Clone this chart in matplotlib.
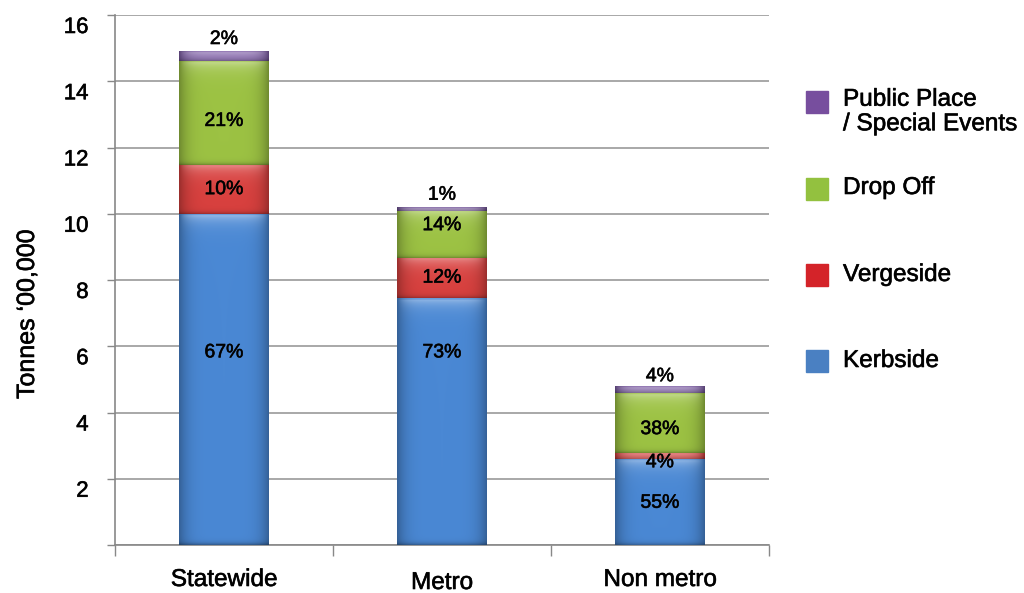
import matplotlib.pyplot as plt
import matplotlib.transforms as mtransforms
import matplotlib.patheffects as pe
from matplotlib.patches import Rectangle
from matplotlib.colors import to_rgb
import numpy as np

plt.rcParams['font.family'] = ['Liberation Sans', 'DejaVu Sans']

regions = ["Statewide", "Metro", "Non metro"]
totals = [14.9, 10.2, 4.72]          # tonnes '00,000
kerbside_pct = [67, 73, 55]
vergeside_pct = [10, 12, 4]
dropoff_pct = [21, 14, 38]
public_pct = [2, 1, 4]

streams = ["Kerbside", "Vergeside", "Drop Off", "Public Place\n/ Special Events"]
bar_colors = ["#4a88d4", "#d8403e", "#9cc243", "#8060a8"]
key_colors = ["#4a80c2", "#d42329", "#93c13f", "#774e9e"]

pcts = [kerbside_pct, vergeside_pct, dropoff_pct, public_pct]
segments = [[t * p[i] / 100 for i, t in enumerate(totals)] for p in pcts]

# slightly heavier strokes for all text
heavy = [pe.withStroke(linewidth=0.45, foreground="#111111")]


def glossy(ax, x0, y0, w, h, color):
    base = np.array(to_rgb(color))
    nx, ny = 80, 300
    u = np.linspace(0, 1, nx)
    side = 1 - 0.28 * np.abs(2 * u - 1) ** 5
    d = np.linspace(0, h, ny)          # distance from the top
    b = h - d                          # distance from the bottom
    glow = 0.45 * np.exp(-d / 0.22)
    glow[d < 0.03] *= 0.4
    dark = 0.30 * np.exp(-b / 0.06)
    mid = 1 - np.abs(2 * u - 1) ** 6
    rgb = base[None, None, :] * side[None, :, None] * (1 - dark[:, None, None])
    rgb = rgb + (1 - rgb) * (glow[:, None] * mid[None, :])[:, :, None]
    ax.imshow(np.clip(rgb, 0, 1), extent=(x0, x0 + w, y0, y0 + h),
              aspect='auto', interpolation='bilinear', zorder=3)


fig = plt.figure(figsize=(10.24, 5.93), dpi=100)
ax = fig.add_axes([115 / 1024, 1 - 545 / 593, (769 - 115) / 1024, 530 / 593])

width = 0.41
x = np.arange(len(regions))
bottom = np.zeros(len(regions))
for seg, col in zip(segments, bar_colors):
    for i in range(len(regions)):
        glossy(ax, x[i] - width / 2, bottom[i], width, seg[i], col)
    bottom += np.array(seg)

# percentage labels
kerb_label_y = [5.8, 5.8, 1.26]
verge_frac = [0.5, 0.5, -0.6]
drop_frac = [0.42, 0.68, 0.39]
lab_kw = dict(ha='center', va='center', fontsize=14, zorder=5, path_effects=heavy)
for i in range(len(regions)):
    k, v, dr, pu = (s[i] for s in segments)
    ax.text(x[i], kerb_label_y[i], f"{kerbside_pct[i]}%", **lab_kw)
    ax.text(x[i], k + v * verge_frac[i], f"{vergeside_pct[i]}%", **lab_kw)
    ax.text(x[i], k + v + dr * drop_frac[i], f"{dropoff_pct[i]}%", **lab_kw)
    ax.text(x[i], totals[i] + 0.36, f"{public_pct[i]}%", **lab_kw)

ax.set_xlim(-0.5, 2.5)
ax.set_ylim(0, 16)
ax.set_yticks(np.arange(0, 17, 2))
ax.set_yticklabels([""] + [str(v) for v in range(2, 17, 2)])
ax.yaxis.grid(True, color="#9a9a9a", lw=1.2)
ax.set_axisbelow(True)
ax.tick_params(axis='y', direction='out', length=6, width=1, color="#888888",
               pad=13, labelsize=16)
offset = mtransforms.ScaledTranslation(0, -10 / 100, fig.dpi_scale_trans)
for lab in ax.get_yticklabels():
    lab.set_transform(lab.get_transform() + offset)
    lab.set_path_effects(heavy)

ax.set_xticks([])
ax.set_xticks([-0.5, 0.5, 1.5, 2.5], minor=True)
ax.tick_params(axis='x', which='minor', direction='out', length=8, width=1, color="#888888")
for sp in ["top", "right"]:
    ax.spines[sp].set_visible(False)
for sp in ["left", "bottom"]:
    ax.spines[sp].set_color("#888888")
    ax.spines[sp].set_linewidth(1.2)

label_drop = [-35, -38, -35]
for i, name in enumerate(regions):
    ax.annotate(name, xy=(x[i], 0), xytext=(0, label_drop[i] * 0.72), textcoords='offset points',
                ha='center', va='center', fontsize=17.5, path_effects=heavy)

ax.set_ylabel("Tonnes \u201800,000", fontsize=18, path_effects=heavy)
ax.yaxis.set_label_coords(-(115 - 39) / 654, (545 - 314) / 530)

# key on the right
key_y = [361, 275, 189, 102]
text_y = [361, 275, 188, 112]
for name, col, ky, ty in zip(streams, key_colors, key_y, text_y):
    fig.add_artist(Rectangle((806 / 1024, 1 - (ky + 11) / 593), 22 / 1024, 22 / 593,
                             transform=fig.transFigure, color=col))
    fig.text(843 / 1024, 1 - ty / 593, name, ha='left', va='center', fontsize=17.5,
             linespacing=1.15, path_effects=heavy)

fig.savefig("out.png", dpi=100)
